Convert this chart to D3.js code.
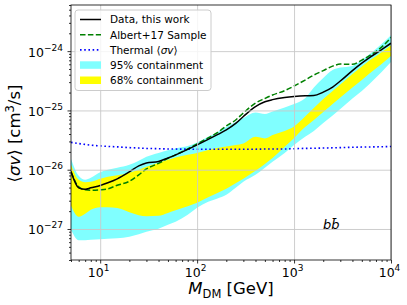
<!DOCTYPE html>
<html><head><meta charset="utf-8">
<script src="https://cdn.jsdelivr.net/npm/d3@7"></script>
<style>body{margin:0;background:#fff} text{font-family:"DejaVu Sans",sans-serif}</style>
</head><body><svg id="c" width="407" height="305"></svg>
<script>
// ---- data ----
const massGeV = [5,6,7,8,10,12,15,20,25,30,40,50,60,80,100,130,160,200,250,300,400,500,600,800,1000,1300,1600,2000,2500,3000,4000,5000,6000,8000,10000];
const dataThisWork = [9.3e-27,4.95e-27,4.67e-27,4.95e-27,5.41e-27,6.01e-27,7.02e-27,9.2e-27,1.16e-26,1.30e-26,1.38e-26,1.58e-26,1.78e-26,2.20e-26,2.62e-26,3.24e-26,3.86e-26,4.69e-26,6.03e-26,7.90e-26,1.16e-25,1.40e-25,1.52e-25,1.65e-25,1.72e-25,1.77e-25,1.78e-25,2.04e-25,2.48e-25,3.13e-25,4.70e-25,6.28e-25,7.78e-25,1.06e-24,1.36e-24];
const albert17Sample = [9.2e-27,5.15e-27,4.58e-27,4.50e-27,4.58e-27,4.76e-27,5.46e-27,6.37e-27,8.19e-27,1.03e-26,1.28e-26,1.55e-26,1.78e-26,2.24e-26,2.73e-26,3.44e-26,4.17e-26,5.47e-26,6.90e-26,9.05e-26,1.33e-25,1.59e-25,1.82e-25,2.16e-25,2.58e-25,3.25e-25,3.95e-25,4.70e-25,5.59e-25,6.04e-25,6.0e-25,7.06e-25,8.40e-25,1.17e-24,1.69e-24];
const thermalSigmaV = [2.89e-26,2.76e-26,2.67e-26,2.60e-26,2.52e-26,2.47e-26,2.43e-26,2.36e-26,2.32e-26,2.29e-26,2.26e-26,2.24e-26,2.23e-26,2.22e-26,2.21e-26,2.21e-26,2.21e-26,2.21e-26,2.21e-26,2.21e-26,2.22e-26,2.23e-26,2.24e-26,2.24e-26,2.26e-26,2.29e-26,2.30e-26,2.32e-26,2.34e-26,2.36e-26,2.39e-26,2.41e-26,2.42e-26,2.44e-26,2.46e-26];
const band95High = [1.52e-26,7.88e-27,6.75e-27,7.30e-27,9.03e-27,9.95e-27,1.08e-26,1.21e-26,1.41e-26,1.65e-26,1.92e-26,2.12e-26,2.29e-26,2.52e-26,2.89e-26,3.59e-26,4.25e-26,5.26e-26,6.39e-26,7.46e-26,9.23e-26,8.71e-26,9.59e-26,1.12e-25,1.28e-25,1.60e-25,2.43e-25,3.51e-25,4.79e-25,5.28e-25,5.64e-25,7.06e-25,8.90e-25,1.32e-24,1.86e-24];
const band95Low = [9.73e-28,6.48e-28,6.48e-28,6.61e-28,6.73e-28,6.86e-28,7.00e-28,7.42e-28,8.18e-28,9.00e-28,1.01e-27,1.18e-27,1.33e-27,1.74e-27,2.28e-27,2.88e-27,3.23e-27,3.77e-27,4.95e-27,6.25e-27,8.19e-27,1.08e-26,1.36e-26,1.92e-26,2.62e-26,3.59e-26,4.51e-26,6.14e-26,8.22e-26,1.06e-25,1.59e-25,2.12e-25,2.79e-25,4.43e-25,6.53e-25];
const band68High = [1.21e-26,6.75e-27,6.13e-27,6.25e-27,7.02e-27,7.58e-27,8.04e-27,8.86e-27,9.95e-27,1.12e-26,1.30e-26,1.47e-26,1.61e-26,1.78e-26,1.92e-26,2.16e-26,2.33e-26,2.47e-26,2.62e-26,2.78e-26,3.59e-26,3.37e-26,3.86e-26,4.51e-26,5.37e-26,7.90e-26,1.10e-25,1.56e-25,2.12e-25,2.73e-25,4.10e-25,5.49e-25,6.92e-25,9.62e-25,1.26e-24];
const band68Low = [2.47e-27,1.61e-27,1.81e-27,2.11e-27,2.33e-27,2.33e-27,2.25e-27,1.92e-27,1.71e-27,1.64e-27,1.67e-27,1.87e-27,2.07e-27,2.43e-27,2.77e-27,3.43e-27,4.00e-27,4.76e-27,5.89e-27,7.02e-27,9.57e-27,1.25e-26,1.58e-26,2.43e-26,3.44e-26,5.26e-26,6.90e-26,9.41e-26,1.28e-25,1.65e-25,2.43e-25,3.25e-25,4.18e-25,6.04e-25,8.24e-25];
const xTickValues = [10,100,1000,10000];
const xTickExponents = ["1","2","3","4"];
const yTickValues = [1e-27,1e-26,1e-25,1e-24];
const yTickExponents = ["\u221227","\u221226","\u221225","\u221224"];
const legendLabels = ["Data, this work","Albert+17 Sample","Thermal","95% containment","68% containment"];

// ---- layout ----
const X0=71, X1=391, Y0=5, Y1=260;
const svg = d3.select("#c");
svg.append("rect").attr("width",407).attr("height",305).attr("fill","#fff");
const x = d3.scaleLog().domain([5,1e4]).range([X0,X1]);
const y = d3.scaleLog().domain([3e-28,6e-24]).range([Y1,Y0]);

svg.append("defs").append("clipPath").attr("id","clip")
  .append("rect").attr("x",X0).attr("y",Y0).attr("width",X1-X0).attr("height",Y1-Y0);
const plot = svg.append("g").attr("clip-path","url(#clip)");

const rows = massGeV.map((m,i)=>({m, d:dataThisWork[i], a:albert17Sample[i], t:thermalSigmaV[i],
  h95:band95High[i], l95:band95Low[i], h68:band68High[i], l68:band68Low[i]}));
const curve = d3.curveMonotoneX;
plot.append("path").datum(rows).attr("fill","#80ffff")
  .attr("d", d3.area().curve(curve).x(r=>x(r.m)).y0(r=>y(r.l95)).y1(r=>y(r.h95)));
plot.append("path").datum(rows).attr("fill","#ffff00")
  .attr("d", d3.area().curve(curve).x(r=>x(r.m)).y0(r=>y(r.l68)).y1(r=>y(r.h68)));

// grid
const gridX = svg.append("g").attr("transform",`translate(0,${Y1})`)
  .call(d3.axisBottom(x).tickValues(xTickValues).tickSize(-(Y1-Y0)).tickFormat(""));
const gridY = svg.append("g").attr("transform",`translate(${X0},0)`)
  .call(d3.axisLeft(y).tickValues(yTickValues).tickSize(-(X1-X0)).tickFormat(""));
[gridX,gridY].forEach(g=>{ g.select(".domain").remove(); g.selectAll("line").attr("stroke","#c8c8c8").attr("stroke-width",0.9); });

// lines
plot.append("path").datum(rows).attr("fill","none").attr("stroke","#0000ff").attr("stroke-width",1.6)
  .attr("stroke-dasharray","1.6,2.6")
  .attr("d", d3.line().curve(curve).x(r=>x(r.m)).y(r=>y(r.t)));
plot.append("path").datum(rows).attr("fill","none").attr("stroke","#008000").attr("stroke-width",1.5)
  .attr("stroke-dasharray","5.5,2.4")
  .attr("d", d3.line().curve(curve).x(r=>x(r.m)).y(r=>y(r.a)));
plot.append("path").datum(rows).attr("fill","none").attr("stroke","#000").attr("stroke-width",1.5)
  .attr("d", d3.line().curve(curve).x(r=>x(r.m)).y(r=>y(r.d)));

// axes
const minorX = [];
[1,10,100,1000].forEach(b=>{ for(let k=2;k<=9;k++){ const v=b*k; if(v>=5&&v<=1e4) minorX.push(v);} });
const minorY = [];
[1e-28,1e-27,1e-26,1e-25,1e-24].forEach(b=>{ for(let k=2;k<=9;k++){ const v=b*k; if(v>=3e-28&&v<=6e-24) minorY.push(v);} });

const axX = svg.append("g").attr("transform",`translate(0,${Y1})`)
  .call(d3.axisBottom(x).tickValues(xTickValues).tickSize(3.5).tickSizeOuter(0));
svg.append("g").attr("transform",`translate(0,${Y1})`)
  .call(d3.axisBottom(x).tickValues(minorX).tickSize(2).tickSizeOuter(0).tickFormat(""))
  .select(".domain").remove();
const axY = svg.append("g").attr("transform",`translate(${X0},0)`)
  .call(d3.axisLeft(y).tickValues(yTickValues).tickSize(3.5).tickSizeOuter(0));
svg.append("g").attr("transform",`translate(${X0},0)`)
  .call(d3.axisLeft(y).tickValues(minorY).tickSize(2).tickSizeOuter(0).tickFormat(""))
  .select(".domain").remove();
[axX,axY].forEach(g=>g.select(".domain").remove());
svg.selectAll(".tick line").filter(function(){return d3.select(this).attr("stroke")!=="#c8c8c8";})
  .attr("stroke","#000").attr("stroke-width",0.8);

axX.selectAll(".tick text").each(function(d,i){
  const t=d3.select(this); t.text(null).attr("y",17).attr("dy",null).attr("x",-2)
    .attr("font-size",12.5).attr("fill","#000").attr("text-anchor","middle").attr("font-family","DejaVu Sans");
  t.append("tspan").text("10");
  t.append("tspan").attr("dy",-6).attr("font-size",9).text(xTickExponents[i]);
});
axY.selectAll(".tick text").each(function(d,i){
  const t=d3.select(this); t.text(null).attr("x",-8).attr("dy",null).attr("y",5)
    .attr("font-size",12.5).attr("fill","#000").attr("text-anchor","end").attr("font-family","DejaVu Sans");
  t.append("tspan").text("10");
  t.append("tspan").attr("dy",-6).attr("font-size",9).text(yTickExponents[i]);
});

// frame
svg.append("rect").attr("x",X0).attr("y",Y0).attr("width",X1-X0).attr("height",Y1-Y0)
  .attr("fill","none").attr("stroke","#000").attr("stroke-width",0.8);

// labels
const xl = svg.append("text").attr("x",(X0+X1)/2).attr("y",294).attr("text-anchor","middle").attr("font-size",16.5);
xl.append("tspan").attr("font-style","italic").text("M");
xl.append("tspan").attr("dy",3.5).attr("font-size",11.5).text("DM");
xl.append("tspan").attr("dy",-3.5).text(" [GeV]");

const yl = svg.append("text").attr("transform",`translate(20,${(Y0+Y1)/2+1}) rotate(-90)`)
  .attr("text-anchor","middle").attr("font-size",16.5);
yl.append("tspan").text("\u27E8");
yl.append("tspan").attr("font-style","italic").text("\u03C3v");
yl.append("tspan").text("\u27E9 [cm");
yl.append("tspan").attr("dy",-6).attr("font-size",11.5).text("3");
yl.append("tspan").attr("dy",6).text("/s]");

svg.append("text").attr("x",323).attr("y",229).attr("font-size",13).attr("font-style","italic").text("bb\u0304");

// legend
const lg = svg.append("g");
lg.append("rect").attr("x",75).attr("y",10).attr("width",136).attr("height",80.5).attr("rx",3)
  .attr("fill","#fff").attr("fill-opacity",0.8).attr("stroke","#cccccc").attr("stroke-width",1);
const ly = i => 19.5 + i*15.2;
lg.append("line").attr("x1",80).attr("x2",101).attr("y1",ly(0)).attr("y2",ly(0)).attr("stroke","#000").attr("stroke-width",1.5);
lg.append("line").attr("x1",80).attr("x2",101).attr("y1",ly(1)).attr("y2",ly(1)).attr("stroke","#008000").attr("stroke-width",1.5).attr("stroke-dasharray","5.5,2.4");
lg.append("line").attr("x1",80).attr("x2",101).attr("y1",ly(2)).attr("y2",ly(2)).attr("stroke","#0000ff").attr("stroke-width",1.6).attr("stroke-dasharray","1.6,2.6");
lg.append("rect").attr("x",80).attr("y",ly(3)-3.8).attr("width",21).attr("height",7.5).attr("fill","#80ffff");
lg.append("rect").attr("x",80).attr("y",ly(4)-3.8).attr("width",21).attr("height",7.5).attr("fill","#ffff00");
legendLabels.forEach((s,i)=>{
  const t = lg.append("text").attr("x",110).attr("y",ly(i)+3.8).attr("font-size",10.5);
  t.append("tspan").text(s);
  if(i===2){ t.append("tspan").text(" \u27E8"); t.append("tspan").attr("font-style","italic").text("\u03C3v"); t.append("tspan").text("\u27E9"); }
});
</script></body></html>
